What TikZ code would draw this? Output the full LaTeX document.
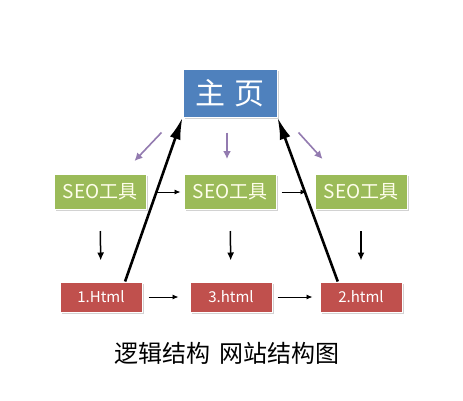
\documentclass[tikz,border=0pt]{standalone}
\usepackage{fontspec}
\setmainfont{Noto Sans CJK SC}
\usetikzlibrary{calc, arrows.meta, positioning, shadows}
\definecolor{boxblue}{HTML}{4F81BD}
\definecolor{boxgreen}{HTML}{9BBB59}
\definecolor{boxred}{HTML}{C0504D}
\definecolor{arrowpurple}{HTML}{8064A2}

\begin{document}
\begin{tikzpicture}[x=1pt, y=-1pt, >=Latex,
  box/.style={draw=white, line width=1pt, text=white, inner sep=0pt,
    drop shadow={shadow xshift=1.5pt, shadow yshift=-1.5pt, opacity=0.35}},
  homebox/.style={box, fill=boxblue, minimum width=94pt, minimum height=48pt, font=\fontsize{30}{32}\selectfont},
  toolbox/.style={box, fill=boxgreen, text=white!92!yellow, minimum width=92pt, minimum height=35pt, font=\fontsize{19}{21}\selectfont},
  pagebox/.style={box, fill=boxred, minimum width=82pt, minimum height=30pt, font=\fontsize{15}{17}\selectfont},
  purplearrow/.style={line width=1.6pt, draw=arrowpurple!85, -{Latex[length=8pt, width=8pt]}},
  downarrow/.style={line width=1.5pt, -{Latex[length=8pt, width=7pt]}, shorten <=21pt, shorten >=21pt},
  sidearrow/.style={line width=0.9pt, -{Latex[length=6pt, width=5pt]}},
  backarrow/.style={line width=2.6pt, -{Latex[length=22pt, width=11pt]}}]
\useasboundingbox[fill=white] (0,0) rectangle (463,400);
% top
\node[homebox] (main) at (230,93) {主\,\,页};
% second row
\node[toolbox] (seoA) at (100,192) {SEO工具};
\node[toolbox] (seoB) at (230,192) {SEO工具};
\node[toolbox] (seoC) at (361,192) {SEO工具};
% third row
\node[pagebox] (pageA) at (101,297) {1.Html};
\node[pagebox] (pageB) at (231,297) {3.html};
\node[pagebox] (pageC) at (361,297) {2.html};
% purple arrows
\draw[purplearrow] ($(main.south west)+(-21,15)$) -- ($(seoA.north east)+(-12,-13)$);
\draw[purplearrow] ($(main.south)+(-3,15)$) -- ($(seoB.north)+(-3,-15)$);
\draw[purplearrow] ($(main.south east)+(21,15)$) -- ($(seoC.north west)+(8,-15)$);
% down arrows
\draw[downarrow] (seoA.south) -- (pageA.north);
\draw[downarrow] (seoB.south) -- (pageB.north);
\draw[downarrow] (seoC.south) -- (pageC.north);
% side arrows
\draw[sidearrow, shorten <=10pt, shorten >=3pt] (seoA.east) -- (seoB.west);
\draw[sidearrow, shorten <=5pt, shorten >=8pt] (seoB.east) -- (seoC.west);
\draw[sidearrow, shorten <=6pt, shorten >=11pt] (pageA.east) -- (pageB.west);
\draw[sidearrow, shorten <=5pt, shorten >=7pt] (pageB.east) -- (pageC.west);
% back to home
\draw[backarrow] ($(pageA.north west)!0.79!(pageA.north east)$) -- (main.south west);
\draw[backarrow] ($(pageC.north west)!0.22!(pageC.north east)$) -- (main.south east);
% caption
\node[font=\fontsize{24}{26}\selectfont] (caption) at (227,353) {逻辑结构\hspace{9pt}网站结构图};
\end{tikzpicture}
\end{document}
